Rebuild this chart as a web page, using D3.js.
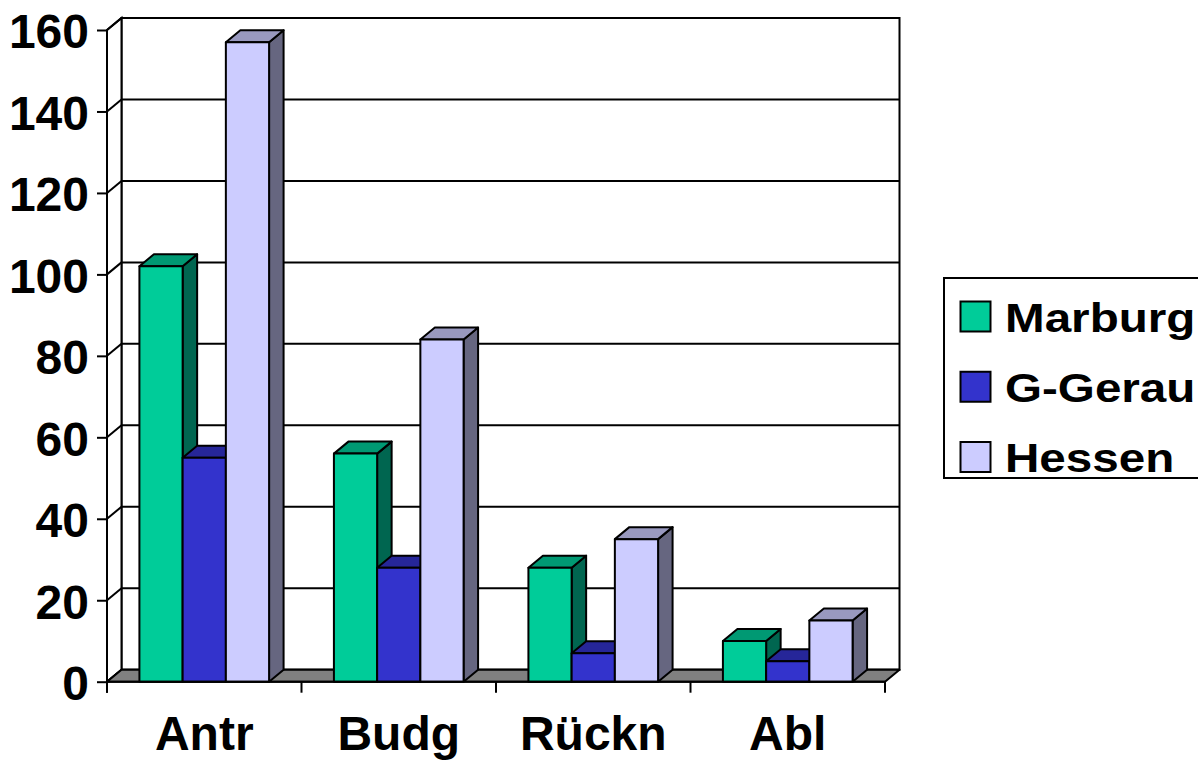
<!DOCTYPE html>
<html>
<head>
<meta charset="utf-8">
<script src="https://cdn.jsdelivr.net/npm/d3@7"></script>
<style>
  html, body { margin: 0; padding: 0; background: #fff; }
  svg { display: block; font-family: "Liberation Sans", Arial, sans-serif; font-weight: bold; }
</style>
</head>
<body>
<svg id="chart" width="1198" height="761"></svg>
<script>
// Data
const categories = ["Antr", "Budg", "Rückn", "Abl"];
const seriesNames = ["Marburg", "G-Gerau", "Hessen"];
const marburg = [102, 56, 28, 10];
const gGerau = [55, 28, 7, 5];
const hessen = [157, 84, 35, 15];
const yTicks = [0, 20, 40, 60, 80, 100, 120, 140, 160];

const seriesValues = [marburg, gGerau, hessen];

// Face colours per series: front, top, side
const palette = [
  { front: "#00CC99", top: "#009973", side: "#006650" },
  { front: "#3333CC", top: "#262699", side: "#1A1A66" },
  { front: "#CCCCFF", top: "#9999BF", side: "#666680" }
];

const svg = d3.select("#chart");

// Plot geometry: front plane + depth offset for the 3D look
const x0 = 107, x1 = 885;
const depthX = 14.5, depthY = -12;

const x = d3.scaleBand().domain(categories).range([x0, x1]).padding(0);
const y = d3.scaleLinear().domain([0, 160]).range([681.7, 30]);
const bw = x.bandwidth();
const xs = d3.scaleBand().domain(seriesNames).range([bw / 6, bw * 5 / 6]).padding(0);

const yTop = y(160), yBot = y(0);
const line = d3.line();
const poly = pts => line(pts) + "Z";

// Back wall
svg.append("path")
  .attr("d", poly([[x0 + depthX, yTop + depthY], [x1 + depthX, yTop + depthY],
                   [x1 + depthX, yBot + depthY], [x0 + depthX, yBot + depthY]]))
  .attr("fill", "#fff").attr("stroke", "#000").attr("stroke-width", 2);

// Side wall
svg.append("path")
  .attr("d", poly([[x0, yTop], [x0 + depthX, yTop + depthY],
                   [x0 + depthX, yBot + depthY], [x0, yBot]]))
  .attr("fill", "#fff").attr("stroke", "#000").attr("stroke-width", 2);

// Gridlines on back wall and side wall
const grid = svg.append("g").attr("stroke", "#000").attr("stroke-width", 2).attr("fill", "none");
yTicks.forEach(t => {
  grid.append("path").attr("d", line([[x0 + depthX, y(t) + depthY], [x1 + depthX, y(t) + depthY]]));
  grid.append("path").attr("d", line([[x0, y(t)], [x0 + depthX, y(t) + depthY]]));
});

// Floor
svg.append("path")
  .attr("d", poly([[x0, yBot], [x1, yBot], [x1 + depthX, yBot + depthY], [x0 + depthX, yBot + depthY]]))
  .attr("fill", "#808080").attr("stroke", "#000").attr("stroke-width", 2)
  .attr("stroke-linejoin", "round");

// Bars
const bars = svg.append("g").attr("stroke", "#000").attr("stroke-width", 2).attr("stroke-linejoin", "round");
categories.forEach((c, ci) => {
  seriesNames.forEach((s, si) => {
    const v = seriesValues[si][ci];
    const l = x(c) + xs(s), r = l + xs.bandwidth();
    const t = y(v), b = y(0);
    const col = palette[si];
    // right side face
    bars.append("path")
      .attr("d", poly([[r, t], [r + depthX, t + depthY], [r + depthX, b + depthY], [r, b]]))
      .attr("fill", col.side);
    // top face
    bars.append("path")
      .attr("d", poly([[l, t], [l + depthX, t + depthY], [r + depthX, t + depthY], [r, t]]))
      .attr("fill", col.top);
    // front face
    bars.append("path")
      .attr("d", poly([[l, t], [r, t], [r, b], [l, b]]))
      .attr("fill", col.front);
  });
});

// Value axis
const yAxisG = svg.append("g").attr("transform", `translate(${x0},0)`)
  .call(d3.axisLeft(y).tickValues(yTicks).tickSize(10).tickPadding(8).tickFormat(d3.format("d")));
yAxisG.select(".domain").attr("stroke", "#000").attr("stroke-width", 2).attr("d", `M0,${yTop}V${yBot + 11}`);
yAxisG.selectAll(".tick line").attr("stroke", "#000").attr("stroke-width", 2);
yAxisG.selectAll(".tick text")
  .attr("font-size", 48).attr("font-family", "'Liberation Sans', Arial, sans-serif")
  .attr("font-weight", "bold").attr("fill", "#000").attr("dy", "0.37em");

// Category axis
const xAxisG = svg.append("g").attr("transform", `translate(0,${yBot})`)
  .call(d3.axisBottom(x).tickSize(0).tickPadding(0));
xAxisG.select(".domain").attr("stroke", "#000").attr("stroke-width", 2).attr("d", `M${x0},0H${x1}`);
xAxisG.selectAll(".tick text")
  .attr("font-size", 48).attr("font-family", "'Liberation Sans', Arial, sans-serif")
  .attr("font-weight", "bold").attr("fill", "#000").attr("y", 68).attr("dy", 0);
// tick marks between categories
const catTicks = categories.map(c => x(c)).concat([x1]);
xAxisG.selectAll("line.cat").data(catTicks).join("line").attr("class", "cat")
  .attr("x1", d => d).attr("x2", d => d).attr("y1", 0).attr("y2", 11)
  .attr("stroke", "#000").attr("stroke-width", 2);

// Legend
const legend = svg.append("g");
legend.append("rect").attr("x", 944).attr("y", 278).attr("width", 280).attr("height", 200)
  .attr("fill", "#fff").attr("stroke", "#000").attr("stroke-width", 2);
const legendY = d3.scalePoint().domain(seriesNames).range([316.5, 457]);
seriesNames.forEach((s, i) => {
  const cy = legendY(s);
  legend.append("rect").attr("x", 960.5).attr("y", cy - 15).attr("width", 30).attr("height", 30)
    .attr("fill", palette[i].front).attr("stroke", "#000").attr("stroke-width", 2);
  legend.append("text")
    .attr("transform", `translate(1005,${cy + 15}) scale(1.19,1)`)
    .attr("font-size", 40).attr("fill", "#000").text(s);
});
</script>
</body>
</html>
